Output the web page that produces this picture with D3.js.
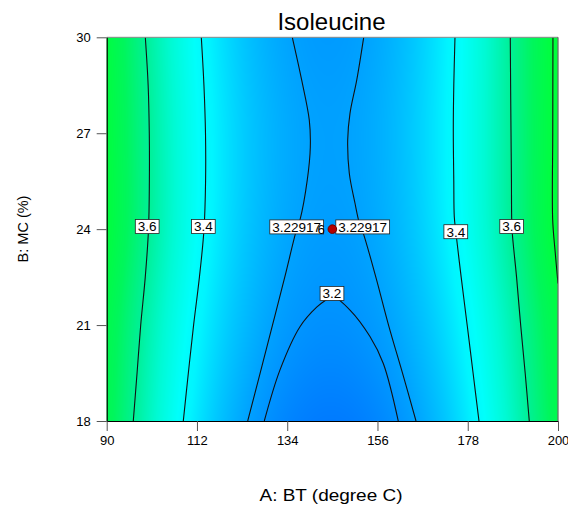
<!DOCTYPE html>
<html><head><meta charset="utf-8">
<script src="https://cdn.jsdelivr.net/npm/d3@7/dist/d3.min.js"></script>
<style>
body{margin:0;background:#fff;}
svg{display:block;font-family:Arial,"Liberation Sans",Helvetica,sans-serif;}
</style>
</head><body>
<svg id="chart" width="568" height="511"></svg>
<script>
// ---------------- data ----------------
const chartTitle = "Isoleucine";
const xTitle = "A: BT (degree C)";
const yTitle = "B: MC (%)";
const xTicks = [90, 112, 134, 156, 178, 200];
const yTicks = [18, 21, 24, 27, 30];

// response surface (Isoleucine), rows = MC, columns = BT
const gridX = [90, 100, 110, 120, 130, 140, 150, 160, 170, 180, 190, 200];
const gridY = [18, 21, 24, 27, 30];
const zRow18 = [3.731, 3.537, 3.382, 3.266, 3.189, 3.151, 3.152, 3.192, 3.271, 3.389, 3.546, 3.741];
const zRow21 = [3.750, 3.564, 3.416, 3.305, 3.231, 3.195, 3.197, 3.236, 3.312, 3.426, 3.578, 3.767];
const zRow24 = [3.795, 3.602, 3.448, 3.333, 3.257, 3.221, 3.223, 3.264, 3.345, 3.464, 3.623, 3.820];
const zRow27 = [3.791, 3.602, 3.451, 3.338, 3.264, 3.228, 3.231, 3.272, 3.352, 3.470, 3.626, 3.821];
const zRow30 = [3.780, 3.590, 3.439, 3.326, 3.252, 3.217, 3.221, 3.264, 3.346, 3.467, 3.627, 3.825];

// colour ramp (response -> colour)
const colorStops = [3.14, 3.22, 3.30, 3.38, 3.42, 3.50, 3.60, 3.70, 3.80];
const colorValues = ["rgb(0,120,255)", "rgb(0,158,255)", "rgb(0,200,255)", "rgb(0,245,255)",
                     "rgb(0,255,252)", "rgb(0,250,212)", "rgb(0,240,150)", "rgb(0,246,92)", "rgb(0,255,60)"];

// contour lines [BT, MC]
const c36Left  = [[99.41,30],[100.1,28.5],[100.38,27],[100.4,25.5],[100.19,24],[99.4,22.5],[98.29,21],[97.4,19.5],[96.48,18]];
const c34Left  = [[113.06,30],[113.7,28.5],[114.08,27],[114.1,25.5],[113.72,24],[112.6,22.5],[111.18,21],[109.9,19.5],[108.67,18]];
const c3229Left  = [[135.24,30],[137.53,28.66],[139.38,27.41],[139.63,26.57],[138.89,25.54],[137.11,24.29],[136.31,24],[133.4,22.5],[130.41,21],[127.4,19.5],[124.37,18]];
const c3229Right = [[152.64,30],[150.94,28.66],[149.30,27.62],[148.74,26.79],[149.13,25.75],[150.52,24.81],[151.50,24.23],[152.55,23.87],[155.6,22.5],[158.76,20.97],[162.1,19.5],[165.39,18]];
const c32      = [[128.41,18],[132.24,19.6],[137.11,20.95],[141.18,21.56],[143.62,21.8],[145.0,21.9],[149.30,21.47],[154.17,20.64],[157.42,19.80],[161.07,18]];
const c34Right = [[174.89,30],[174.6,28.5],[174.48,27.1],[174.6,25.5],[174.72,24.39],[175.09,23.92],[176.4,22.5],[177.89,20.97],[179.3,19.5],[180.74,18]];
const c36Right = [[188.37,30],[188.45,28.5],[188.54,27.1],[188.65,25.5],[188.71,24.34],[188.86,23.87],[189.9,22.5],[190.9,21],[192.0,19.5],[193.0,18]];
const c38Right = [[198.77,30],[198.72,27],[198.7,24.3],[199.3,23.3],[200,22.3]];

// contour labels
const labelText = ["3.6", "3.4", "3.22917", "3.22917", "3.2", "3.4", "3.6"];
const labelX    = [99.87, 113.55, 136.31, 152.40, 144.91, 175.09, 188.71];
const labelY    = [24.08, 24.08, 24.07, 24.07, 21.99, 23.92, 24.08];

// design point (centre point, 6 replicates)
const designX = [145];
const designY = [24];
const designCount = ["6"];

// ---------------- layout ----------------
const W = 568, H = 511;
const plot = {left: 106.7, right: 558, top: 37.3, bottom: 421};
const svg = d3.select("#chart");

const x = d3.scaleLinear().domain([90, 200]).range([plot.left, plot.right]);
const y = d3.scaleLinear().domain([18, 30]).range([plot.bottom, plot.top]);
const color = d3.scaleLinear().domain(colorStops).range(colorValues)
  .interpolate(d3.interpolateRgb).clamp(true);

// ---------------- surface ----------------
const gridZ = [zRow18, zRow21, zRow24, zRow27, zRow30];
function catmull(p0, p1, p2, p3, t) {
  const t2 = t * t, t3 = t2 * t;
  return 0.5 * ((2 * p1) + (-p0 + p2) * t + (2 * p0 - 5 * p1 + 4 * p2 - p3) * t2 + (-p0 + 3 * p1 - 3 * p2 + p3) * t3);
}
function interp1(xs, vs, v) {
  let k = d3.bisectRight(xs, v) - 1;
  k = Math.max(0, Math.min(xs.length - 2, k));
  const t = (v - xs[k]) / (xs[k + 1] - xs[k]);
  const p1 = vs[k], p2 = vs[k + 1];
  const p0 = k > 0 ? vs[k - 1] : 2 * p1 - p2;
  const p3 = k + 2 < vs.length ? vs[k + 2] : 2 * p2 - p1;
  return catmull(p0, p1, p2, p3, t);
}
const pw = Math.round(plot.right - plot.left), ph = Math.round(plot.bottom - plot.top);
const canvas = document.createElement("canvas");
canvas.width = pw; canvas.height = ph;
const ctx = canvas.getContext("2d");
const img = ctx.createImageData(pw, ph);
for (let i = 0; i < pw; i++) {
  const xv = x.invert(plot.left + i + 0.5);
  const col = gridZ.map(r => interp1(gridX, r, xv));
  for (let j = 0; j < ph; j++) {
    const yv = y.invert(plot.top + j + 0.5);
    const c = d3.rgb(color(interp1(gridY, col, yv)));
    const o = (j * pw + i) * 4;
    img.data[o] = c.r; img.data[o + 1] = c.g; img.data[o + 2] = c.b; img.data[o + 3] = 255;
  }
}
ctx.putImageData(img, 0, 0);
svg.append("image")
  .attr("x", plot.left).attr("y", plot.top)
  .attr("width", pw).attr("height", ph)
  .attr("preserveAspectRatio", "none")
  .attr("href", canvas.toDataURL());

// ---------------- contour lines ----------------
const line = d3.line().x(d => x(d[0])).y(d => y(d[1])).curve(d3.curveCatmullRom.alpha(0.5));
const clip = svg.append("clipPath").attr("id", "plotclip");
clip.append("rect").attr("x", plot.left).attr("y", plot.top)
  .attr("width", plot.right - plot.left).attr("height", plot.bottom - plot.top);
const contours = [c36Left, c34Left, c3229Left, c3229Right, c32, c34Right, c36Right, c38Right];
svg.append("g").attr("clip-path", "url(#plotclip)")
  .selectAll("path").data(contours).join("path")
  .attr("d", line).attr("fill", "none").attr("stroke", "#111").attr("stroke-width", 1.1);

// ---------------- contour labels ----------------
const lg = svg.append("g").attr("font-size", 13.5);
labelText.forEach((t, i) => {
  const cx = x(labelX[i]), cy = y(labelY[i]);
  const g = lg.append("g");
  const r = g.append("rect").attr("fill", "#fff").attr("stroke", "#222").attr("stroke-width", 0.8);
  const tx = g.append("text").attr("x", cx).attr("y", cy + 4.8).attr("text-anchor", "middle").attr("fill", "#000").text(t);
  const w = tx.node().getComputedTextLength() + 5;
  r.attr("x", cx - w / 2).attr("y", cy - 7).attr("width", w).attr("height", 14);
});

// ---------------- design point ----------------
designX.forEach((d, i) => {
  svg.append("circle").attr("cx", x(d)).attr("cy", y(designY[i])).attr("r", 4.3)
    .attr("fill", "#b40000").attr("stroke", "#700000").attr("stroke-width", 1);
  svg.append("text").attr("x", x(d) - 11).attr("y", y(designY[i]) + 4.8)
    .attr("text-anchor", "middle").attr("font-size", 13.5).attr("fill", "#000").text(designCount[i]);
});

// ---------------- frame & axes ----------------
svg.append("line").attr("x1", plot.left).attr("x2", plot.right).attr("y1", plot.top).attr("y2", plot.top)
  .attr("stroke", "#888").attr("stroke-width", 1);
svg.append("line").attr("x1", plot.right).attr("x2", plot.right).attr("y1", plot.top).attr("y2", plot.bottom)
  .attr("stroke", "#444").attr("stroke-width", 1);

const xAxis = svg.append("g").attr("transform", `translate(0,${plot.bottom})`)
  .call(d3.axisBottom(x).tickValues(xTicks).tickFormat(d3.format("d")).tickSize(10).tickSizeOuter(0).tickPadding(5));
const yAxis = svg.append("g").attr("transform", `translate(${plot.left},0)`)
  .call(d3.axisLeft(y).tickValues(yTicks).tickFormat(d3.format("d")).tickSize(10).tickSizeOuter(0).tickPadding(6));
[xAxis, yAxis].forEach(a => {
  a.select(".domain").attr("stroke", "#000").attr("stroke-width", 1.2);
  a.selectAll(".tick line").attr("stroke", "#555");
  a.selectAll(".tick text").attr("font-size", 13).attr("font-family", "Arial, 'Liberation Sans', sans-serif").attr("fill", "#000");
});

// ---------------- titles ----------------
svg.append("text").attr("x", 331.5).attr("y", 29.5).attr("text-anchor", "middle")
  .attr("font-size", 24).attr("fill", "#000").text(chartTitle);
svg.append("text").attr("x", 331).attr("y", 501).attr("text-anchor", "middle")
  .attr("font-size", 17).attr("textLength", 143).attr("lengthAdjust", "spacingAndGlyphs")
  .attr("fill", "#000").text(xTitle);
svg.append("text").attr("transform", "translate(28,229) rotate(-90)").attr("text-anchor", "middle")
  .attr("font-size", 14.5).attr("fill", "#000").text(yTitle);
</script>
</body></html>
